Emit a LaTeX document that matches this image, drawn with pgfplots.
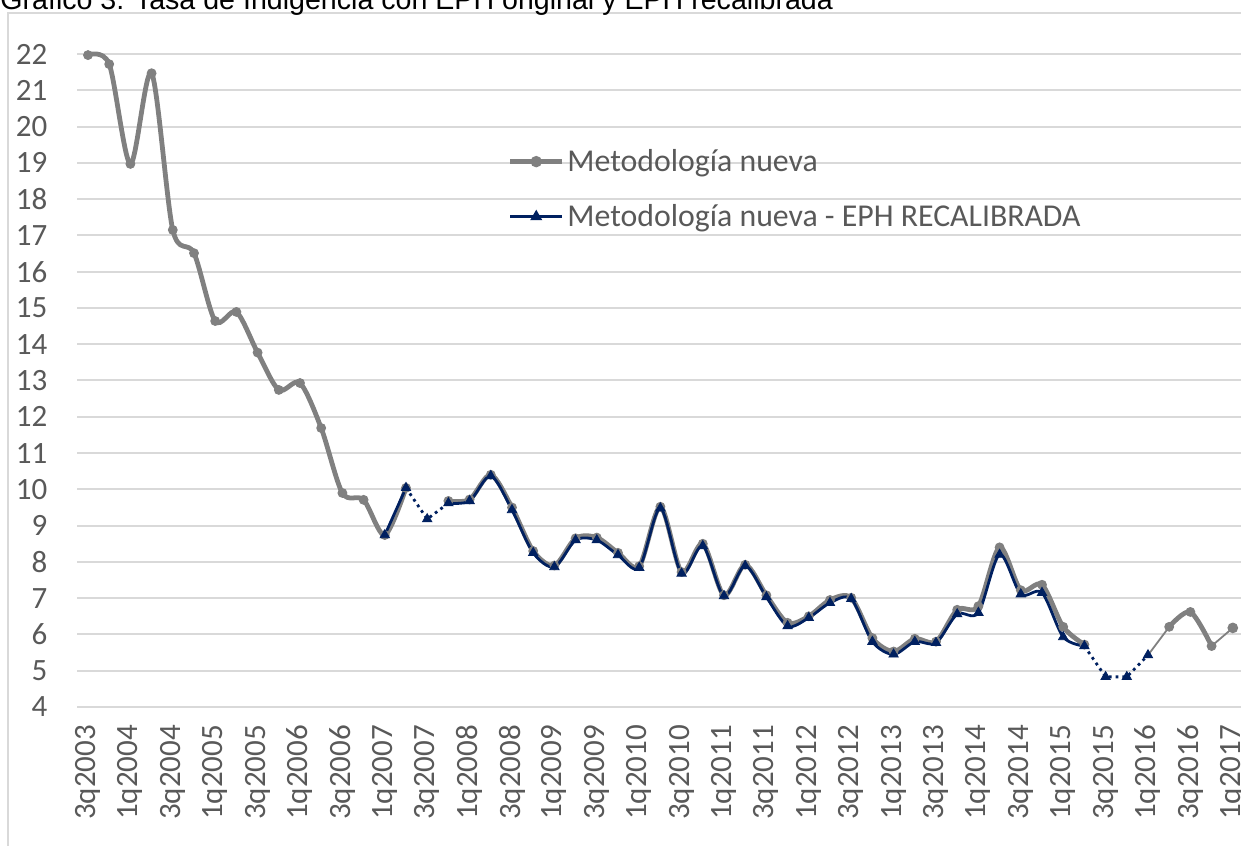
\documentclass[border=0pt]{standalone}
\usepackage{pgfplots}
\pgfplotsset{compat=1.18}
\usepackage{fontspec}
\setmainfont{Carlito}
\newfontfamily\titlefont{Liberation Sans}
\definecolor{gridgray}{HTML}{D9D9D9}
\definecolor{txtgray}{HTML}{595959}
\definecolor{sgray}{HTML}{808080}
\definecolor{navy}{HTML}{002060}
\begin{document}
\begin{tikzpicture}
\draw[gridgray, line width=0.75bp] (-34.7bp,347bp) rectangle (640bp,-120bp);
\begin{axis}[
  at={(0,0)}, anchor=south west,
  scale only axis, width=583bp, height=326.5bp,
  xmin=-0.5, xmax=54.5, ymin=4, ymax=22,
  axis line style={draw=none},
  ymajorgrids, grid style={gridgray, line width=1bp},
  ytick={4,5,...,22},
  xtick={0,2,...,54},
  xticklabels={3q2003,1q2004,3q2004,1q2005,3q2005,1q2006,3q2006,1q2007,3q2007,1q2008,3q2008,1q2009,3q2009,1q2010,3q2010,1q2011,3q2011,1q2012,3q2012,1q2013,3q2013,1q2014,3q2014,1q2015,3q2015,1q2016,3q2016,1q2017},
  major tick length=0pt,
  tick label style={font=\fontsize{15.5bp}{18bp}\selectfont, text=txtgray},
  x tick label style={rotate=90, anchor=east},
  y tick label style={anchor=east},
  xticklabel shift=5.5bp,
  yticklabel shift=11.5bp,
  /pgf/number format/assume math mode=true,
  clip=false,
  legend cell align=left,
  legend style={at={(0.369,0.793)}, anchor=west, draw=none, fill=none, inner sep=0pt,
    row sep=12bp, font=\fontsize{15.9bp}{19bp}\selectfont, text=txtgray,
    nodes={inner sep=1.5bp}},
  legend image code/.code={\draw[mark repeat=2,mark phase=2,#1] plot coordinates {(0bp,0bp) (13bp,0bp) (26bp,0bp)};},
]
% gray thick segments
\addplot[forget plot, sgray, line width=2.4bp, smooth, tension=0.5, mark=*, mark size=2.2bp, mark options={fill=sgray, line width=0.5bp}] coordinates {
(0,21.97) (1,21.72) (2,18.97) (3,21.47) (4,17.15) (5,16.51) (6,14.64) (7,14.89) (8,13.77) (9,12.74) (10,12.93) (11,11.69) (12,9.90) (13,9.71) (14,8.74) (15,10.04)};
\addplot[forget plot, sgray, line width=2.4bp, smooth, tension=0.5, mark=*, mark size=2.2bp, mark options={fill=sgray, line width=0.5bp}] coordinates {
(17,9.68) (18,9.72) (19,10.40) (20,9.50) (21,8.30) (22,7.90) (23,8.65) (24,8.67) (25,8.25) (26,7.88) (27,9.52) (28,7.72) (29,8.50) (30,7.08) (31,7.92) (32,7.08) (33,6.32) (34,6.50) (35,6.95) (36,7.01) (37,5.90) (38,5.53) (39,5.88) (40,5.80) (41,6.68) (42,6.78) (43,8.40) (44,7.22) (45,7.37) (46,6.21) (47,5.72)};
\addplot[forget plot, sgray, line width=2.4bp, smooth, tension=0.5, mark=*, mark size=2.2bp, mark options={fill=sgray, line width=0.5bp}] coordinates {
(51,6.21) (52,6.62) (53,5.68)};
\addplot[forget plot, sgray, line width=0.9bp] coordinates {(50,5.43) (51,6.21)};
\addplot[forget plot, sgray, line width=0.9bp, mark=*, mark size=2.2bp, mark options={fill=sgray}, mark indices={2}] coordinates {(53,5.68) (54,6.18)};
% navy
\addplot[forget plot, navy, line width=1.4bp, dotted] coordinates {(15,10.04) (16,9.18) (17,9.62)};
\addplot[forget plot, navy, line width=1.4bp, dotted] coordinates {(47,5.68) (48,4.83) (49,4.83) (50,5.43)};
\addplot[forget plot, navy, line width=1.4bp] coordinates {(14,8.74) (15,10.04)};
\addplot[forget plot, navy, line width=1.4bp, smooth, tension=0.5] coordinates {
(17,9.62) (18,9.68) (19,10.37) (20,9.43) (21,8.25) (22,7.86) (23,8.60) (24,8.60) (25,8.19) (26,7.84) (27,9.48) (28,7.68) (29,8.44) (30,7.06) (31,7.89) (32,7.03) (33,6.23) (34,6.46) (35,6.87) (36,6.98) (37,5.80) (38,5.45) (39,5.80) (40,5.77) (41,6.56) (42,6.60) (43,8.20) (44,7.11) (45,7.15) (46,5.93) (47,5.68)};
\addplot[forget plot, only marks, navy, mark=triangle*, mark size=2.7bp] coordinates {
(14,8.74) (15,10.04) (16,9.18) (17,9.62) (18,9.68) (19,10.37) (20,9.43) (21,8.25) (22,7.86) (23,8.60) (24,8.60) (25,8.19) (26,7.84) (27,9.48) (28,7.68) (29,8.44) (30,7.06) (31,7.89) (32,7.03) (33,6.23) (34,6.46) (35,6.87) (36,6.98) (37,5.80) (38,5.45) (39,5.80) (40,5.77) (41,6.56) (42,6.60) (43,8.20) (44,7.11) (45,7.15) (46,5.93) (47,5.68) (48,4.83) (49,4.83) (50,5.43)};
\addlegendimage{sgray, line width=2.2bp, mark=*, mark size=1.7bp, mark options={fill=sgray}}
\addlegendentry{Metodología nueva}
\addlegendimage{navy, line width=1.3bp, mark=triangle*, mark size=2.2bp}
\addlegendentry{Metodología nueva - EPH RECALIBRADA}
\end{axis}
\node[anchor=base west, inner sep=0pt, font=\titlefont\fontsize{14.3bp}{17bp}\selectfont] at (-38.7bp,348.5bp) {Gráfico 3. Tasa de Indigencia con EPH original y EPH recalibrada};
\pgfresetboundingbox
\useasboundingbox (-38.7bp,-69.5bp) rectangle (581.8bp,353.5bp);
\end{tikzpicture}
\end{document}
